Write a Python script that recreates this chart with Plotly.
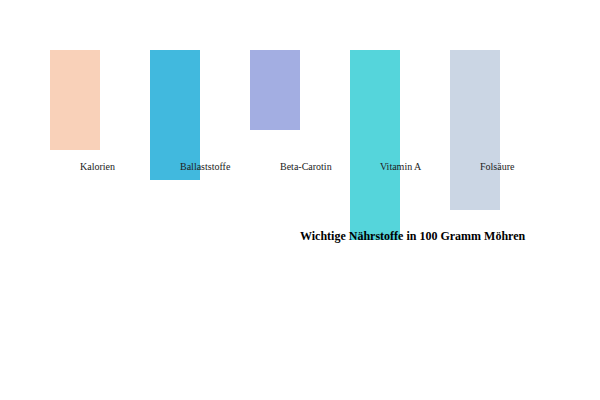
import plotly.graph_objects as go

categories = ["Kalorien", "Ballaststoffe", "Beta-Carotin", "Vitamin A", "Folsäure"]
values = [100, 130, 80, 190, 160]
colors = ["#f9d1b9", "#41b9de", "#a3aee2", "#55d5db", "#cbd6e4"]
title_text = "Wichtige Nährstoffe in 100 Gramm Möhren"

fig = go.Figure()
fig.add_trace(go.Bar(
    x=categories, y=values, base=50, width=0.5,
    marker=dict(color=colors, line=dict(width=0)),
    hoverinfo="skip", showlegend=False,
))

for c in categories:
    fig.add_annotation(x=c, y=166, text=c, showarrow=False,
                       xanchor="left", yanchor="middle", xshift=3,
                       font=dict(family="Liberation Serif", size=10, color="#222"))

fig.add_annotation(x=0, y=236, xref="paper", text="<b>" + title_text + "</b>",
                   showarrow=False, xanchor="left", yanchor="middle", xshift=298,
                   font=dict(family="Liberation Serif", size=12, color="#000"))

fig.update_layout(
    width=600, height=400,
    margin=dict(l=0, r=0, t=0, b=0),
    paper_bgcolor="white", plot_bgcolor="white",
    xaxis=dict(range=[-0.75, 5.25], visible=False, type="category", fixedrange=True),
    yaxis=dict(range=[400, 0], visible=False, fixedrange=True),
    bargap=0,
)

fig.write_html("out.html", config={"displayModeBar": False},
               post_script="document.body.style.margin='0';document.body.style.overflow='hidden';")
